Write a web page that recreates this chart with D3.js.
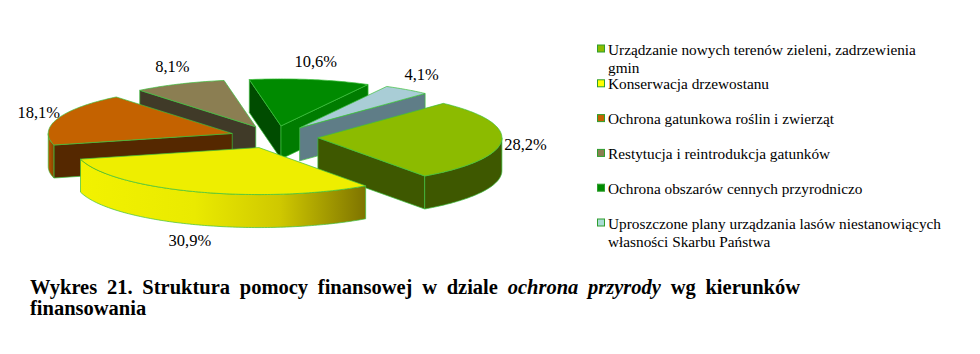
<!DOCTYPE html>
<html><head><meta charset="utf-8">
<script src="https://cdn.jsdelivr.net/npm/d3@7"></script>
<style>
html,body{margin:0;padding:0;background:#fff;}
svg{display:block;}
</style></head>
<body>
<svg id="chart" width="980" height="354"></svg>
<script>
// ---- data ----
const categories = [
  "Urządzanie nowych terenów zieleni, zadrzewienia gmin",
  "Konserwacja drzewostanu",
  "Ochrona gatunkowa roślin i zwierząt",
  "Restytucja i reintrodukcja gatunków",
  "Ochrona obszarów cennych przyrodniczo",
  "Uproszczone plany urządzania lasów niestanowiących własności Skarbu Państwa"
];
const values = [28.2, 30.9, 18.1, 8.1, 10.6, 4.1];
const titleLine1 = ["Wykres", "21.", "Struktura", "pomocy", "finansowej", "w", "dziale", "ochrona", "przyrody", "wg", "kierunków"];
const titleItalic = ["ochrona", "przyrody"];
const titleLine2 = "finansowania";

// ---- styles ----
const topColors  = ["#8CBB00", "#EEEE00", "#C46200", "#8B7E52", "#008A00", "#A9CDD6"];
const wallColors = ["#3E5800", "#D8D400", "#B35700", "#403A28", "#005200", "#5F7D87"];
const startWallColors = ["#3E5800", "#D8D400", "#552800", "#403A28", "#004C00", "#5F7D87"];
const endWallColors   = ["#3E5800", "#D8D400", "#552800", "#403A28", "#007C00", "#5F7D87"];
const legendColors = ["#8CBB00", "#FFFF00", "#C46200", "#8B7E52", "#008A00", "#A9DCD6"];
const edge = "#3CC03C";

const svg = d3.select("#chart");
const defs = svg.append("defs");
const geom = {cx: 274, cy: 137, rx: 184, ry: 47, depth: 33, explode: 44, start: 43};
const rad = Math.PI / 180;

const pie = d3.pie().sort(null)
  .startAngle(geom.start * rad)
  .endAngle((geom.start + 360) * rad);
const arcs = pie(values);

function centerOf(a) {
  const m = (a.startAngle + a.endAngle) / 2;
  return {x: geom.cx + geom.explode * Math.sin(m),
          y: geom.cy - geom.explode * (geom.ry / geom.rx) * Math.cos(m), m};
}
function pt(c, t, dz) {
  return [c.x + geom.rx * Math.sin(t), c.y - geom.ry * Math.cos(t) + (dz || 0)];
}
function samples(t0, t1) {
  const n = Math.max(2, Math.ceil(Math.abs(t1 - t0) / rad));
  return d3.range(n + 1).map(i => t0 + (t1 - t0) * i / n);
}
const line = d3.line();

const order = arcs.map((a, i) => i).sort((i, j) => {
  const mi = (arcs[i].startAngle + arcs[i].endAngle) / 2;
  const mj = (arcs[j].startAngle + arcs[j].endAngle) / 2;
  return (-Math.cos(mi)) - (-Math.cos(mj));
});

const yGrad = defs.append("linearGradient").attr("id", "gYellow")
  .attr("x1", 0).attr("x2", 1).attr("y1", 0).attr("y2", 0);
[["0%", "#F2F200"], ["40%", "#EAEA00"], ["70%", "#CFC800"], ["100%", "#7E7400"]]
  .forEach(([o, c]) => yGrad.append("stop").attr("offset", o).attr("stop-color", c));
const oGrad = defs.append("linearGradient").attr("id", "gOrange")
  .attr("x1", 0).attr("x2", 1).attr("y1", 0).attr("y2", 0);
[["0%", "#B85A00"], ["100%", "#8A4200"]].forEach(([o, c]) => oGrad.append("stop").attr("offset", o).attr("stop-color", c));

const pieG = svg.append("g");
order.forEach(i => {
  const a = arcs[i];
  const c = centerOf(a);
  const g = pieG.append("g");
  const t0 = a.startAngle, t1 = a.endAngle;
  const D = geom.depth;
  const startVisible = Math.cos(t0 - Math.PI / 2) < 0;
  const endVisible = Math.cos(t1 + Math.PI / 2) < 0;
  if (startVisible) {
    g.append("path").attr("d", line([[c.x, c.y], pt(c, t0), pt(c, t0, D), [c.x, c.y + D]]) + "Z")
      .attr("fill", startWallColors[i]).attr("stroke", edge).attr("stroke-width", 0.7);
  }
  if (endVisible) {
    g.append("path").attr("d", line([[c.x, c.y], pt(c, t1), pt(c, t1, D), [c.x, c.y + D]]) + "Z")
      .attr("fill", endWallColors[i]).attr("stroke", edge).attr("stroke-width", 0.7);
  }
  const lo = Math.max(t0, 90 * rad), hi = Math.min(t1, 270 * rad);
  if (hi > lo) {
    const ts = samples(lo, hi);
    const top = ts.map(t => pt(c, t));
    const bot = ts.slice().reverse().map(t => pt(c, t, D));
    let fill = wallColors[i];
    if (i === 1) fill = "url(#gYellow)";
    if (i === 2) fill = "url(#gOrange)";
    g.append("path").attr("d", line(top.concat(bot)) + "Z")
      .attr("fill", fill).attr("stroke", edge).attr("stroke-width", 0.7);
  }
  const ts = samples(t0, t1);
  g.append("path").attr("d", line([[c.x, c.y]].concat(ts.map(t => pt(c, t)))) + "Z")
    .attr("fill", topColors[i]).attr("stroke", edge).attr("stroke-width", 0.7);
});

// data labels
const fmt = d3.formatLocale({decimal: ",", thousands: " ", grouping: [3], currency: ["", ""]}).format(".1f");
arcs.forEach((a, i) => {
  const c = centerOf(a);
  const m = c.m;
  const x = c.x + 206 * Math.sin(m) + 2;
  const y = c.y - 66 * Math.cos(m) + geom.depth * Math.max(0, -Math.cos(m));
  svg.append("text").attr("x", x).attr("y", y).attr("dy", "0.35em")
    .attr("text-anchor", "middle")
    .attr("font-family", "'Liberation Serif', 'Times New Roman', serif")
    .attr("font-size", 16.5).attr("fill", "#000")
    .text(fmt(a.data) + "%");
});

// legend
const legX = 597, legY0 = 54.5, legStep = 34.8, legLine = 18.5, legMax = 337;
const legG = svg.append("g").attr("font-family", "'Liberation Serif', 'Times New Roman', serif")
  .attr("font-size", 15.3).attr("fill", "#000");
categories.forEach((name, i) => {
  const y = legY0 + i * legStep;
  legG.append("rect").attr("x", legX + 0.5).attr("y", y - 9.5).attr("width", 7).attr("height", 7)
    .attr("fill", legendColors[i]).attr("stroke", "#2E9E2E").attr("stroke-width", 1);
  const t = legG.append("text").attr("x", legX + 11).attr("y", y);
  const words = name.split(" ");
  let lineWords = [], lineNo = 0;
  let ts = t.append("tspan").attr("x", legX + 11).attr("y", y);
  words.forEach(w => {
    lineWords.push(w);
    ts.text(lineWords.join(" "));
    if (ts.node().getComputedTextLength() > legMax && lineWords.length > 1) {
      lineWords.pop();
      ts.text(lineWords.join(" "));
      lineWords = [w];
      lineNo++;
      ts = t.append("tspan").attr("x", legX + 11).attr("y", y + lineNo * legLine).text(w);
    }
  });
});

// title
const titleG = svg.append("g").attr("font-family", "'Liberation Serif', 'Times New Roman', serif")
  .attr("font-size", 20.5).attr("font-weight", "bold").attr("fill", "#000");
const tx0 = 30, tx1 = 800;
const t1 = titleG.append("text").attr("x", tx0).attr("y", 294);
titleLine1.forEach((w, k) => {
  t1.append("tspan").attr("font-style", titleItalic.includes(w) ? "italic" : "normal")
    .text((k ? " " : "") + w);
});
const natural = t1.node().getComputedTextLength();
const ws = Math.max(0, (tx1 - tx0 - natural) / (titleLine1.length - 1));
t1.attr("word-spacing", ws);
titleG.append("text").attr("x", tx0).attr("y", 315).text(titleLine2);
</script>
</body></html>
